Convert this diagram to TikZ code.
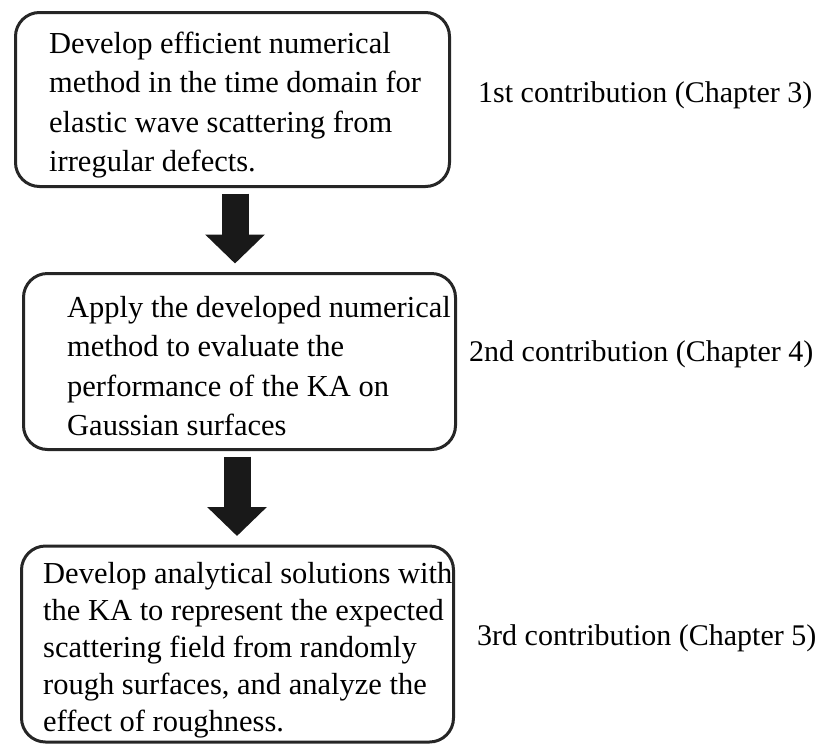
\documentclass[tikz,border=0pt]{standalone}
\usepackage{fontspec}
\setmainfont{Liberation Serif}
\usetikzlibrary{arrows.meta,calc}
\begin{document}
\begin{tikzpicture}[x=1pt,y=-1pt,
  box/.style={draw=black!85, line width=3pt, rounded corners=24pt, outer sep=0pt, inner sep=0pt},
  txt/.style={anchor=west, align=left, inner sep=0pt, font=\fontsize{30.5}{39.5}\selectfont},
  lbl/.style={anchor=west, inner sep=0pt, font=\fontsize{30}{36}\selectfont},
  blockarrow/.style={line width=27pt, black!90, -{Triangle[length=29pt,width=58pt]}, shorten <=7pt, shorten >=10pt}]
\useasboundingbox (0,0) rectangle (822,745);
\node[box, minimum width=434pt, minimum height=174pt] (b1) at (232.5,99.5) {};
\node[box, minimum width=432pt, minimum height=176pt] (b2) at (239.5,361.5) {};
\node[box, minimum width=432pt, minimum height=196pt] (b3) at (237.5,644) {};
\node[txt] (t1) at (49,105) {Develop efficient numerical\\method in the time domain for\\elastic wave scattering from\\irregular defects.};
\node[txt] (t2) at (67,366) {Apply the developed numerical\\method to evaluate the\\performance of the KA on\\Gaussian surfaces};
\node[txt, font=\fontsize{30.5}{37}\selectfont] (t3) at (43,650) {Develop analytical solutions with\\the KA to represent the expected\\scattering field from randomly\\rough surfaces, and analyze the\\effect of roughness.};
\node[lbl] (l1) at (478,95) {1st contribution (Chapter 3)};
\node[lbl] (l2) at (469,354) {2nd contribution (Chapter 4)};
\node[lbl] (l3) at (477,638) {3rd contribution (Chapter 5)};
\coordinate (a1) at ($(b1.south)+(2.5,0)$);
\coordinate (a2) at ($(b2.south)+(-2.5,0)$);
\draw[blockarrow] (a1) -- (a1 |- b2.north);
\draw[blockarrow] (a2) -- (a2 |- b3.north);
\end{tikzpicture}
\end{document}
